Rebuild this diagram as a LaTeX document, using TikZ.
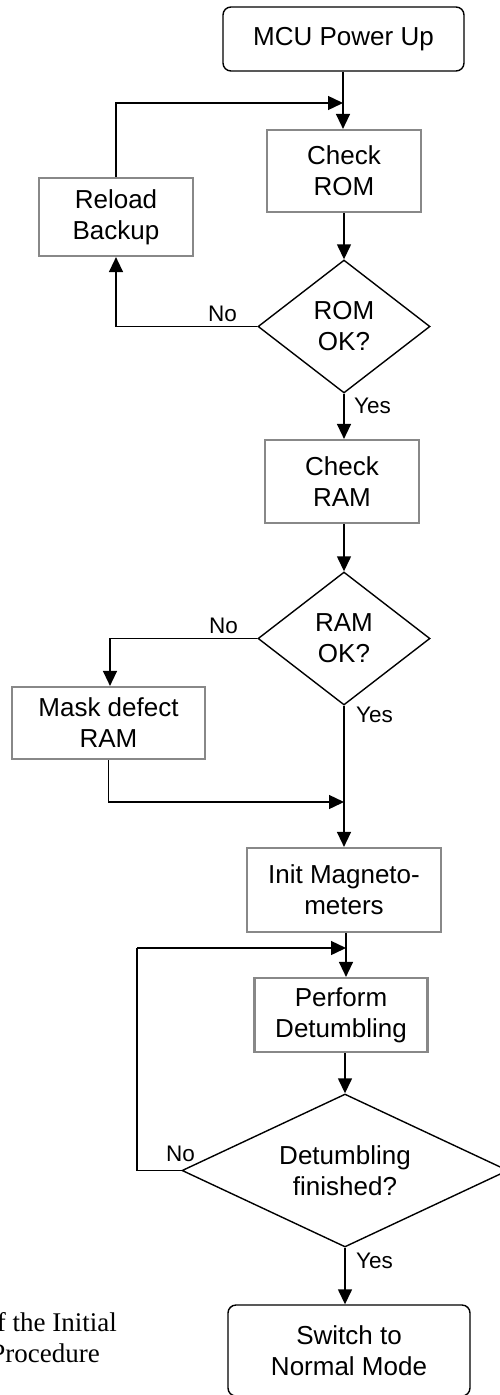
\documentclass[tikz,border=0pt]{standalone}
\usepackage{fontspec}
\setmainfont{Liberation Sans}
\newfontfamily\capfont{Liberation Serif}
\usetikzlibrary{shapes.geometric,arrows.meta}
\definecolor{boxgray}{RGB}{136,136,136}
\tikzset{
  dfont/.style={font=\fontsize{26pt}{31pt}\selectfont},
  procbox/.style={draw=boxgray, line width=2.2pt, align=center, inner sep=0pt, dfont},
  termbox/.style={draw=black, line width=1.4pt, rounded corners=8pt, align=center, inner sep=0pt, dfont},
  decbox/.style={diamond, draw=black, line width=1.4pt, align=center, inner sep=0pt, dfont},
  arr/.style={-{Triangle[length=15pt,width=14pt]}, line width=1.4pt},
  ln/.style={line width=1.4pt},
  lbl/.style={font=\fontsize{22.5pt}{26pt}\selectfont, inner sep=0pt, anchor=base west},
  captxt/.style={font=\capfont\fontsize{27pt}{31pt}\selectfont, inner sep=0pt, anchor=base east}
}
\begin{document}
\begin{tikzpicture}[x=1pt,y=-1pt]
\useasboundingbox (0,0) rectangle (500,1395);
\node[termbox, minimum width=241pt, minimum height=64pt] (mcu) at (343.5,39) {MCU Power Up};
\node[procbox, minimum width=154pt, minimum height=82pt] (rom) at (344,171) {Check\\ROM};
\node[procbox, minimum width=154pt, minimum height=78pt] (reload) at (116,217) {Reload\\Backup};
\node[decbox, aspect=1.29, minimum width=172pt, minimum height=133pt] (romq) at (344,326.5) {ROM\\OK?};
\node[procbox, minimum width=154pt, minimum height=83pt] (ram) at (342,481.5) {Check\\RAM};
\node[decbox, aspect=1.29, minimum width=172pt, minimum height=133pt] (ramq) at (344,638.5) {RAM\\OK?};
\node[procbox, minimum width=193pt, minimum height=72pt] (mask) at (108.5,723) {Mask defect\\RAM};
\node[procbox, minimum width=194pt, minimum height=84pt] (init) at (344,890) {Init Magneto-\\meters};
\node[procbox, minimum width=173pt, minimum height=74pt] (perf) at (341,1015) {Perform\\Detumbling};
\fill[white] (256.2,1044.5) rectangle (425.8,1050.8);
\node[decbox, aspect=2.13, minimum width=326pt, minimum height=153pt] (detq) at (345,1170.5) {Detumbling\\finished?};
\node[termbox, minimum width=242pt, minimum height=91pt] (sw) at (349,1350.5) {Switch to\\Normal Mode};

\coordinate (j1) at (343,103);
\coordinate (j2) at (344,802);
\coordinate (j3) at (346,948);
\coordinate (l3) at (137,948);

\draw[arr] (mcu.south -| j1) -- (rom.north -| j1);
\draw[arr] (rom.south) -- (romq.north);
\draw[arr] (romq.west) -| (reload.south);
\draw[arr] (reload.north) |- (j1);
\draw[arr] (romq.south) -- (romq.south |- ram.north);
\draw[arr] (ram.south -| ramq.north) -- (ramq.north);
\draw[arr] (ramq.west) -| ([xshift=1.5pt]mask.north);
\draw[arr] (ramq.south) -- (init.north);
\draw[arr] (mask.south) |- (j2);
\draw[arr] (init.south -| j3) -- (perf.north -| j3);
\draw[arr] (perf.south -| detq.north) -- (detq.north);
\draw[ln] (detq.west) -| (l3);
\draw[arr] (l3) -- (j3);
\draw[arr] (detq.south) -- (detq.south |- sw.north);

\node[lbl] (no1) at (208,321) {No};
\node[lbl] (yes1) at (354,413) {Yes};
\node[lbl] (no2) at (209,633) {No};
\node[lbl] (yes2) at (356,722) {Yes};
\node[lbl] (no3) at (166,1161) {No};
\node[lbl] (yes3) at (356,1268) {Yes};

\node[captxt] (cap1) at (117,1331) {f the Initial};
\node[captxt] (cap2) at (100,1362) {Procedure};
\end{tikzpicture}
\end{document}
